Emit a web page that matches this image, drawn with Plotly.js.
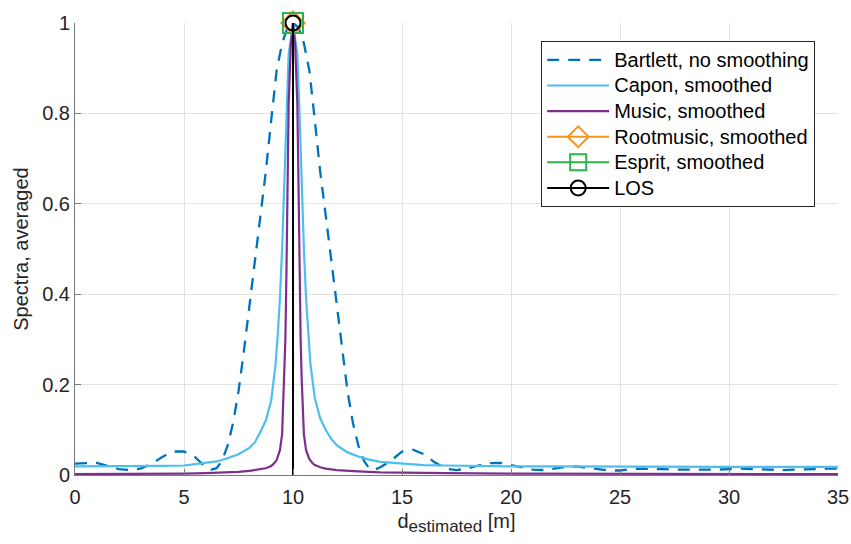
<!DOCTYPE html>
<html>
<head>
<meta charset="utf-8">
<script src="https://cdn.plot.ly/plotly-3.0.1.min.js"></script>
<style>
html,body{margin:0;padding:0;background:#fff;}
#chart{width:851px;height:544px;}
</style>
</head>
<body>
<div id="chart"></div>
<script>
// Bartlett, no smoothing
const bartlettD = [0,0.5,1,1.5,2,2.5,3,3.5,4,4.5,5,5.5,6,
  6.25,6.5,6.75,7,7.25,7.5,7.75,8,8.25,8.5,8.75,9,9.25,9.5,9.75,10,10.25,10.5,10.75,11,11.25,11.5,11.75,12,12.25,12.5,12.75,13,13.25,13.5,13.75,
  14,14.5,15,15.5,16,16.5,17,17.5,18,18.5,19,19.5,20,20.5,21,21.5,22,22.5,23,23.5,24,24.5,25,25.5,26,26.5,27,27.5,28,28.5,29,29.5,30,30.5,31,31.5,32,32.5,33,33.5,34,34.5,35];
const bartlettV = [0.025,0.026,0.027,0.020,0.013,0.011,0.014,0.024,0.040,0.052,0.052,0.040,0.017,
  0.012,0.015,0.032,0.065,0.115,0.185,0.275,0.375,0.475,0.575,0.670,0.785,0.895,0.955,0.990,1.000,0.990,0.955,0.895,0.785,0.670,0.575,0.475,0.375,0.275,0.185,0.115,0.065,0.032,0.014,0.012,
  0.017,0.032,0.052,0.056,0.046,0.028,0.014,0.011,0.014,0.021,0.026,0.027,0.022,0.016,0.012,0.011,0.014,0.018,0.019,0.016,0.012,0.010,0.010,0.013,0.014,0.014,0.013,0.012,0.012,0.011,0.011,0.012,0.013,0.014,0.013,0.012,0.011,0.011,0.012,0.012,0.013,0.014,0.014];

// Capon, smoothed
const caponD = [0,1,2,3,4,5,6,6.5,7,7.5,8,8.25,8.5,8.75,9,9.2,9.3,9.4,9.5,9.6,9.7,9.8,10,10.2,10.3,10.4,10.5,10.6,10.7,10.8,11,11.25,11.5,11.75,12,12.5,13,13.5,14,15,16,17,18,20,22,25,30,35];
const caponV = [0.019,0.019,0.019,0.020,0.020,0.021,0.026,0.030,0.037,0.046,0.060,0.072,0.095,0.120,0.165,0.245,0.310,0.390,0.500,0.640,0.800,0.930,1.000,0.930,0.800,0.640,0.500,0.390,0.310,0.245,0.170,0.125,0.100,0.080,0.066,0.050,0.041,0.034,0.029,0.025,0.022,0.021,0.020,0.019,0.019,0.018,0.018,0.018];

// Music, smoothed
const musicD = [0,2,4,5,6,6.75,7.5,8,8.5,8.75,9,9.1,9.25,9.4,9.5,9.6,9.65,9.7,9.75,9.8,9.9,10,10.1,10.2,10.25,10.3,10.35,10.4,10.5,10.6,10.75,10.9,11,11.25,11.5,12,12.5,13,14,15,17,20,25,30,35];
const musicV = [0.002,0.002,0.003,0.003,0.004,0.005,0.007,0.009,0.012,0.015,0.020,0.024,0.033,0.055,0.090,0.210,0.300,0.450,0.650,0.820,0.950,1.000,0.950,0.820,0.650,0.450,0.300,0.210,0.090,0.055,0.035,0.026,0.022,0.017,0.014,0.011,0.009,0.008,0.006,0.005,0.004,0.003,0.003,0.002,0.002];

// Point estimates (stems)
const rootmusicEst = 10.0;
const espritEst = 10.0;
const losDist = 10.0;
const stemTop = 1.0;

const seriesNames = ['Bartlett, no smoothing','Capon, smoothed','Music, smoothed','Rootmusic, smoothed','Esprit, smoothed','LOS'];
const xTicks = [0,5,10,15,20,25,30,35];
const yTicks = [0,0.2,0.4,0.6,0.8,1];
const yTickText = ['0','0.2','0.4','0.6','0.8','1'];

const FONT = 'Liberation Sans, Arial, Helvetica, sans-serif';
const legName = n => '<span style="font-size:20px">' + n + '</span>';

function stem(name, x, color, symbol, size) {
  return {
    name: legName(name), type: 'scatter', mode: 'lines+markers',
    x: [x, x], y: [0, stemTop],
    line: {color: color, width: 2},
    marker: {symbol: symbol, size: size, color: color, line: {color: color, width: 2}},
    selectedpoints: [1],
    selected: {marker: {opacity: 1}},
    unselected: {marker: {opacity: 0}},
    cliponaxis: false
  };
}

const traces = [
  {name: legName(seriesNames[0]), type: 'scatter', mode: 'lines', x: bartlettD, y: bartlettV,
   line: {color: '#0072BD', width: 2.3, dash: '12px,9px'}},
  {name: legName(seriesNames[1]), type: 'scatter', mode: 'lines', x: caponD, y: caponV,
   line: {color: '#4DBEEE', width: 2.2}},
  {name: legName(seriesNames[2]), type: 'scatter', mode: 'lines', x: musicD, y: musicV,
   line: {color: '#7E2F8E', width: 2.2}},
  stem(seriesNames[3], rootmusicEst, '#F7941D', 'diamond-open', 18),
  stem(seriesNames[4], espritEst, '#2DB34A', 'square-open', 20),
  stem(seriesNames[5], losDist, '#000000', 'circle-open', 15)
];

const layout = {
  width: 851, height: 544,
  margin: {l: 75, r: 13, t: 23, b: 69, pad: 0},
  paper_bgcolor: '#ffffff', plot_bgcolor: '#ffffff',
  font: {family: FONT, size: 20, color: '#262626'},
  showlegend: true,
  legend: {
    x: 0.611, y: 0.96, xanchor: 'left', yanchor: 'top',
    bgcolor: '#ffffff', bordercolor: '#262626', borderwidth: 1,
    font: {family: FONT, size: 17.4, color: '#000000'},
    itemwidth: 62, tracegroupgap: 0
  },
  xaxis: {
    range: [0, 35], tickvals: xTicks, ticktext: xTicks.map(String),
    showgrid: true, gridcolor: '#e3e3e3', gridwidth: 1,
    showline: true, linecolor: '#7a7a7a', linewidth: 1, mirror: false,
    ticks: 'inside', ticklen: 6, tickcolor: '#7a7a7a', tickwidth: 1,
    ticklabelstandoff: 4,
    zeroline: false, tickfont: {family: FONT, size: 20, color: '#262626'},
    title: {text: 'd<sub><span style="font-size:17px">estimated</span></sub> [m]', font: {family: FONT, size: 20, color: '#262626'}, standoff: 6}
  },
  yaxis: {
    range: [0, 1], tickvals: yTicks, ticktext: yTickText,
    showgrid: true, gridcolor: '#e3e3e3', gridwidth: 1,
    showline: true, linecolor: '#7a7a7a', linewidth: 1, mirror: false,
    ticks: 'inside', ticklen: 6, tickcolor: '#7a7a7a', tickwidth: 1,
    zeroline: false, tickfont: {family: FONT, size: 20, color: '#262626'},
    title: {text: 'Spectra, averaged', font: {family: FONT, size: 20, color: '#262626'}, standoff: 8}
  }
};

Plotly.newPlot('chart', traces, layout, {staticPlot: true, displayModeBar: false});
</script>
</body>
</html>
